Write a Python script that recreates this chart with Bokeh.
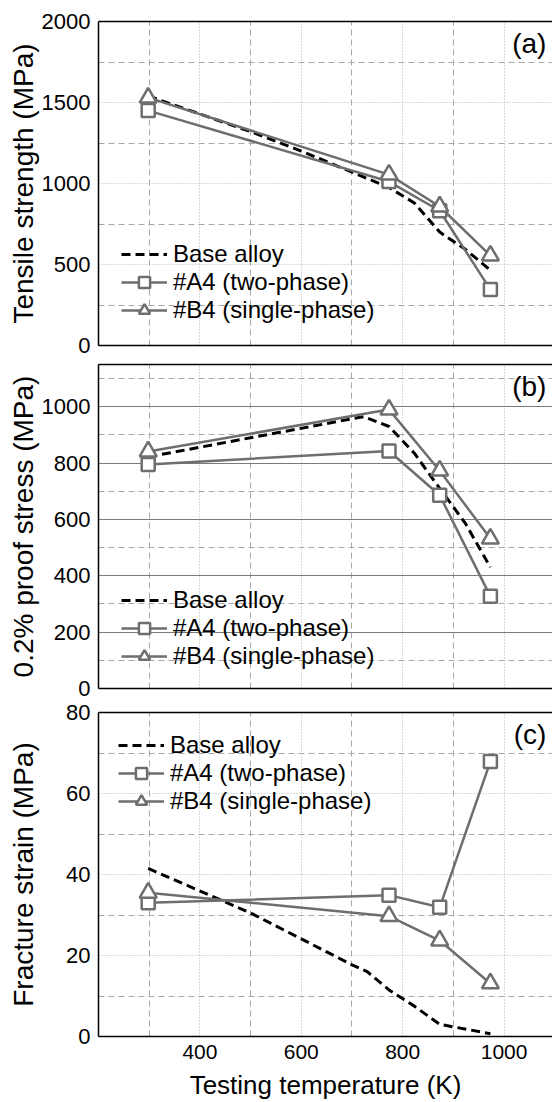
from bokeh.plotting import figure
from bokeh.models import (Range1d, FixedTicker, LinearAxis, Legend, LegendItem,
                          Label, ColumnDataSource)
from bokeh.layouts import column
from bokeh.embed import file_html
from bokeh.resources import INLINE

# ---------------- data ----------------
temps = [298, 773, 873, 973]

# (a) Tensile strength (MPa)
base_a_T = [298, 500, 600, 700, 773, 823, 873, 923, 973]
base_a = [1540, 1320, 1200, 1070, 975, 880, 700, 595, 465]
a4_a = [1450, 1012, 832, 345]
b4_a = [1530, 1055, 858, 555]

# (b) 0.2% proof stress (MPa)
base_b_T = [298, 500, 723, 773, 823, 873, 923, 973]
base_b = [822, 890, 965, 930, 835, 710, 588, 430]
a4_b = [795, 843, 686, 327]
b4_b = [841, 990, 773, 532]

# (c) Fracture strain
base_c_T = [298, 500, 700, 730, 773, 823, 873, 973]
base_c = [41.5, 30.5, 17.7, 16.0, 11.5, 7.5, 3.0, 0.7]
a4_c = [33.0, 34.9, 31.9, 67.9]
b4_c = [35.5, 29.7, 23.7, 13.1]

x_ticks = [400, 600, 800, 1000]
x_minor = [300, 500, 700, 900, 1100]

FONT = "Liberation Sans"
GRAY = "#6e6e6e"
legend_labels = ["Base alloy", "#A4 (two-phase)", "#B4 (single-phase)"]
X_END = 1095.5


def border_axis():
    return LinearAxis(ticker=FixedTicker(ticks=[]), axis_line_color="black",
                      axis_line_width=1.5, major_tick_line_color=None,
                      minor_tick_line_color=None, major_tick_out=0,
                      major_tick_in=0, major_label_standoff=0)


def make_panel(height, btop, bbottom, y_end, yticks, yminor, ylabel, tag,
               base_T, base_v, a4, b4, legend_loc, solid_major=False,
               show_x=False, title_standoff=0):
    p = figure(width=552, height=height,
               x_range=Range1d(200, X_END), y_range=Range1d(0, y_end),
               output_backend="svg", toolbar_location=None,
               x_axis_location="below" if show_x else None,
               min_border_left=98, min_border_right=0,
               min_border_top=btop, min_border_bottom=bbottom)
    p.outline_line_color = None
    p.background_fill_color = "white"
    p.border_fill_color = "white"

    xt = FixedTicker(ticks=x_ticks, minor_ticks=x_minor)
    if show_x:
        xa = p.xaxis[0]
        xa.ticker = xt
        xa.axis_line_color = "black"
        xa.axis_line_width = 1.5
        xa.major_tick_line_color = None
        xa.minor_tick_line_color = None
        xa.major_tick_out = 0
        xa.major_tick_in = 0
        xa.major_label_text_font = FONT
        xa.major_label_text_font_size = "21px"
        xa.major_label_text_color = "black"
        xa.major_label_standoff = 4
        xa.axis_label = "Testing temperature (K)"
        xa.axis_label_text_font = FONT
        xa.axis_label_text_font_size = "26px"
        xa.axis_label_text_font_style = "normal"
        xa.axis_label_text_color = "black"
        xa.axis_label_standoff = 8
    else:
        p.add_layout(border_axis(), "below")
    p.xgrid[0].ticker = xt

    # y axis
    ya = p.yaxis[0]
    ya.ticker = FixedTicker(ticks=yticks, minor_ticks=yminor)
    ya.axis_line_color = "black"
    ya.axis_line_width = 1.5
    ya.major_tick_line_color = None
    ya.minor_tick_line_color = None
    ya.major_tick_out = 0
    ya.major_tick_in = 0
    ya.major_label_text_font = FONT
    ya.major_label_text_font_size = "22px"
    ya.major_label_text_color = "black"
    ya.major_label_standoff = 4
    ya.axis_label = ylabel
    ya.axis_label_text_font = FONT
    ya.axis_label_text_font_size = "28px"
    ya.axis_label_text_font_style = "normal"
    ya.axis_label_text_color = "black"
    ya.axis_label_standoff = title_standoff

    # top border
    p.add_layout(border_axis(), "above")

    # grids
    for g in (p.xgrid[0], p.ygrid[0]):
        g.grid_line_color = "#b4b4b4"
        g.grid_line_dash = "1 2"
        g.grid_line_width = 1
        g.minor_grid_line_color = "#a8a8a8"
        g.minor_grid_line_dash = "6 4"
        g.minor_grid_line_width = 1
    if solid_major:
        p.ygrid[0].grid_line_color = "#7a7a7a"
        p.ygrid[0].grid_line_dash = "solid"

    src_base = ColumnDataSource(dict(x=base_T, y=base_v))
    src_a4 = ColumnDataSource(dict(x=temps, y=a4))
    src_b4 = ColumnDataSource(dict(x=temps, y=b4))

    r_base = p.line("x", "y", source=src_base, line_color="black",
                    line_width=3, line_dash="9 5")
    r_a4l = p.line("x", "y", source=src_a4, line_color=GRAY, line_width=2.5)
    r_a4m = p.scatter("x", "y", source=src_a4, marker="square", size=13,
                      fill_color="white", line_color=GRAY, line_width=2.5)
    r_b4l = p.line("x", "y", source=src_b4, line_color=GRAY, line_width=2.5)
    r_b4m = p.scatter("x", "y", source=src_b4, marker="triangle", size=17,
                      fill_color="white", line_color=GRAY, line_width=2.5)

    leg = Legend(items=[
        LegendItem(label=legend_labels[0], renderers=[r_base]),
        LegendItem(label=legend_labels[1], renderers=[r_a4l, r_a4m]),
        LegendItem(label=legend_labels[2], renderers=[r_b4l, r_b4m]),
    ], location=legend_loc, orientation="vertical",
        border_line_color=None, background_fill_alpha=0,
        padding=0, margin=0, spacing=0,
        glyph_width=46, glyph_height=28, label_height=28,
        label_standoff=6, label_text_font=FONT,
        label_text_font_size="24px", label_text_color="black")
    p.add_layout(leg)

    # panel tag, anchored near the top-right of the visible frame
    frame_h = height - btop - bbottom
    p.add_layout(Label(x=X_END - 12, y=y_end * (1 - 22.0 / frame_h),
                       text=tag, text_align="right", text_baseline="middle",
                       text_font=FONT, text_font_size="28px",
                       text_color="black"))
    return p


pa = make_panel(357, 21, 12, 2000, [0, 500, 1000, 1500, 2000],
                [250, 750, 1250, 1750], "Tensile strength (MPa)", "(a)",
                base_a_T, base_a, a4_a, b4_a, (23, 21))
pb = make_panel(344, 7, 13, 1150, [0, 200, 400, 600, 800, 1000],
                [100, 300, 500, 700, 900, 1100], "0.2% proof stress (MPa)", "(b)",
                base_b_T, base_b, a4_b, b4_b, (23, 18), solid_major=True)
pc = make_panel(401, 11, 66, 80, [0, 20, 40, 60, 80],
                [10, 30, 50, 70], "Fracture strain (MPa)", "(c)",
                base_c_T, base_c, a4_c, b4_c, (20, 221), show_x=True,
                title_standoff=24)

layout = column(pa, pb, pc, spacing=0)
open("out.html", "w").write(file_html(layout, INLINE))
